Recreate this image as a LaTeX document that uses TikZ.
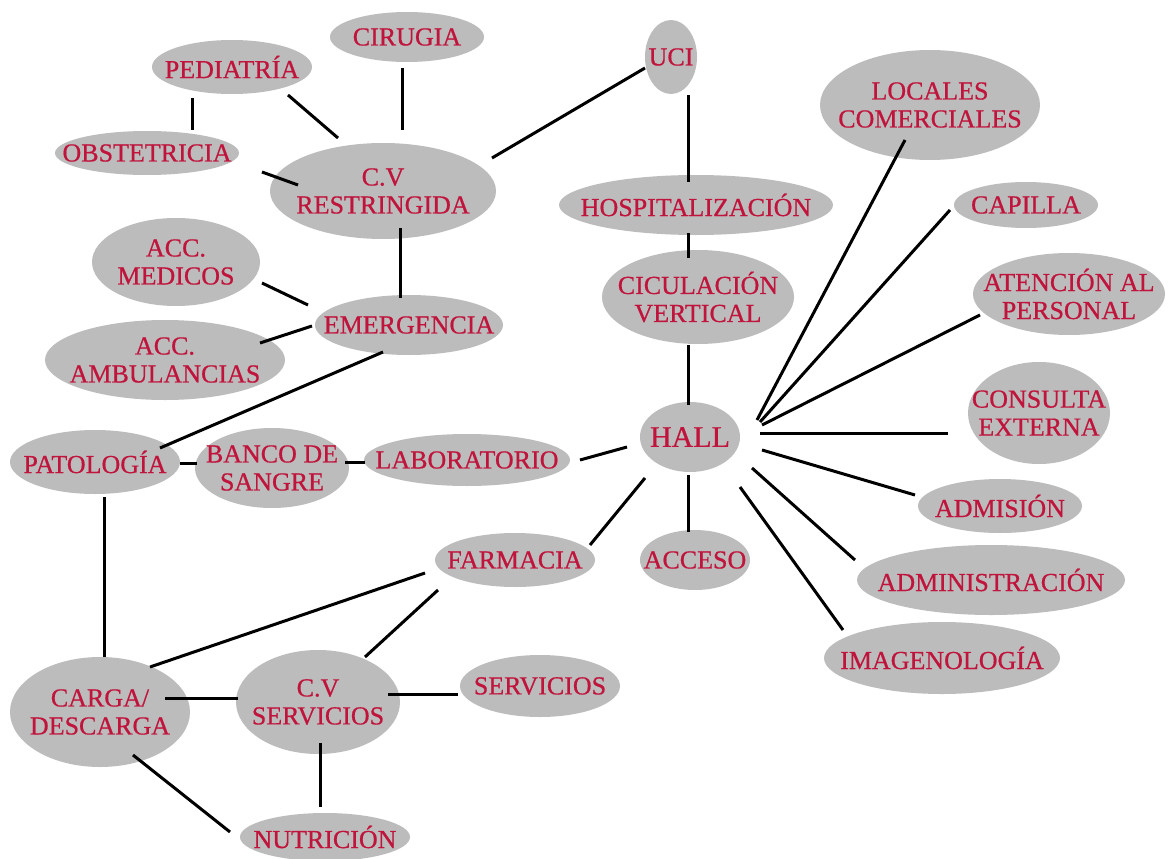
\documentclass[tikz,border=0pt]{standalone}
\usepackage{fontspec}
\setmainfont{Liberation Serif}
\newfontfamily\lblfont{Liberation Serif}[FakeBold=0.6]
\usetikzlibrary{shapes.geometric,calc}
\definecolor{elfill}{RGB}{188,188,188}
\definecolor{eltext}{RGB}{192,20,60}
\tikzset{
  el/.style={ellipse, fill=elfill, inner sep=0pt},
  tx/.style={text=eltext, inner sep=0pt, align=center,
    font=\lblfont\fontsize{26}{28}\selectfont},
  ln/.style={line width=3pt, black}
}
\newcommand{\elnode}[6]{%
  \node[el, minimum width=#3pt, minimum height=#4pt] (#1) at (#2) {};
  \node[tx, #5] (#1t) at (#1) {#6};}
\begin{document}
\begin{tikzpicture}[x=1pt,y=-1pt]
\useasboundingbox (0,0) rectangle (1170,859);
\fill[white] (0,0) rectangle (1170,859);
% nodes
\elnode{ped}{232,67}{160}{54}{}{PEDIATRÍA}
\elnode{cir}{407,37}{154}{50}{}{CIRUGIA}
\elnode{obs}{147,153}{184}{44}{}{OBSTETRICIA}
\elnode{cvr}{383,191}{226}{96}{}{C.V\\RESTRINGIDA}
\elnode{uci}{671,57}{52}{74}{}{UCI}
\elnode{loc}{930,105}{220}{110}{}{LOCALES\\COMERCIALES}
\elnode{hos}{696,205}{274}{60}{}{HOSPITALIZACIÓN}
\elnode{cap}{1026,205}{144}{46}{}{CAPILLA}
\elnode{cic}{698,297}{192}{94}{}{CICULACIÓN\\VERTICAL}
\elnode{ate}{1069,294}{192}{82}{}{ATENCIÓN AL\\PERSONAL}
\elnode{accm}{176,262}{168}{88}{}{ACC.\\MEDICOS}
\elnode{eme}{409,325}{188}{60}{}{EMERGENCIA}
\elnode{acca}{165,360}{240}{80}{}{ACC.\\AMBULANCIAS}
\elnode{con}{1039,413}{142}{102}{}{CONSULTA\\EXTERNA}
\elnode{hall}{690,437}{100}{70}{font=\lblfont\fontsize{30}{32}\selectfont}{HALL}
\elnode{pat}{95,462}{170}{64}{}{PATOLOGÍA}
\elnode{ban}{272,468}{154}{80}{}{BANCO DE\\SANGRE}
\elnode{lab}{467,460}{206}{52}{}{LABORATORIO}
\elnode{adm}{1000,506}{164}{54}{}{ADMISIÓN}
\elnode{far}{515,560}{160}{54}{}{FARMACIA}
\elnode{acc}{695,560}{110}{60}{}{ACCESO}
\elnode{admn}{991,580}{268}{70}{}{ADMINISTRACIÓN}
\elnode{ima}{942,658}{236}{72}{}{IMAGENOLOGÍA}
\elnode{car}{100,712}{180}{110}{}{CARGA/\\DESCARGA}
\elnode{cvs}{318,702}{164}{104}{}{C.V\\SERVICIOS}
\elnode{ser}{540,686}{160}{62}{}{SERVICIOS}
\elnode{nut}{325,837}{170}{48}{}{NUTRICIÓN}
% connectors
\draw[ln] ($(ped)+(-40,31)$) -- ($(obs)+(45,-23)$);
\draw[ln] ($(ped)+(56,28)$) -- ($(cvr)+(-45,-53)$);
\draw[ln] ($(cir)+(-5,31)$) -- ($(cvr)+(19,-61)$);
\draw[ln] ($(obs)+(115,19)$) -- ($(cvr)+(-85,-6)$);
\draw[ln] ($(cvr)+(109,-33)$) -- ($(uci)+(-26,11)$);
\draw[ln] ($(cvr)+(17,37)$) -- ($(eme)+(-9,-27)$);
\draw[ln] ($(accm)+(86,21)$) -- ($(eme)+(-101,-20)$);
\draw[ln] ($(acca)+(95,-17)$) -- ($(eme)+(-97,1)$);
\draw[ln] ($(eme)+(-26,27)$) -- ($(pat)+(65,-14)$);
\draw[ln] ($(uci)+(17,38)$) -- ($(hos)+(-8,-23)$);
\draw[ln] ($(hos)+(-8,28)$) -- ($(cic)+(-10,-39)$);
\draw[ln] ($(cic)+(-10,48)$) -- ($(hall)+(-2,-32)$);
\draw[ln] ($(hall)+(67,-17)$) -- ($(loc)+(-25,35)$);
\draw[ln] ($(hall)+(70,-15)$) -- ($(cap)+(-76,5)$);
\draw[ln] ($(hall)+(72,-12)$) -- ($(ate)+(-89,21)$);
\draw[ln] ($(hall)+(70,-4)$) -- ($(con)+(-91,20)$);
\draw[ln] ($(hall)+(72,13)$) -- ($(adm)+(-85,-11)$);
\draw[ln] ($(hall)+(62,31)$) -- ($(admn)+(-136,-20)$);
\draw[ln] ($(hall)+(50,50)$) -- ($(ima)+(-99,-28)$);
\draw[ln] ($(hall)+(-63,10)$) -- ($(lab)+(113,0)$);
\draw[ln] ($(hall)+(-45,41)$) -- ($(far)+(75,-15)$);
\draw[ln] ($(hall)+(-2,38)$) -- ($(acc)+(-7,-28)$);
\draw[ln] ($(pat)+(85,1)$) -- ($(ban)+(-75,-5)$);
\draw[ln] ($(ban)+(73,-6)$) -- ($(lab)+(-102,2)$);
\draw[ln] ($(pat)+(9,35)$) -- ($(car)+(4,-55)$);
\draw[ln] ($(far)+(-90,13)$) -- ($(car)+(50,-45)$);
\draw[ln] ($(far)+(-77,30)$) -- ($(cvs)+(47,-45)$);
\draw[ln] ($(car)+(65,-14)$) -- ($(cvs)+(-80,-4)$);
\draw[ln] ($(cvs)+(70,-8)$) -- ($(ser)+(-82,8)$);
\draw[ln] ($(cvs)+(2,41)$) -- ($(nut)+(-5,-30)$);
\draw[ln] ($(car)+(33,43)$) -- ($(nut)+(-95,-5)$);
\end{tikzpicture}
\end{document}
